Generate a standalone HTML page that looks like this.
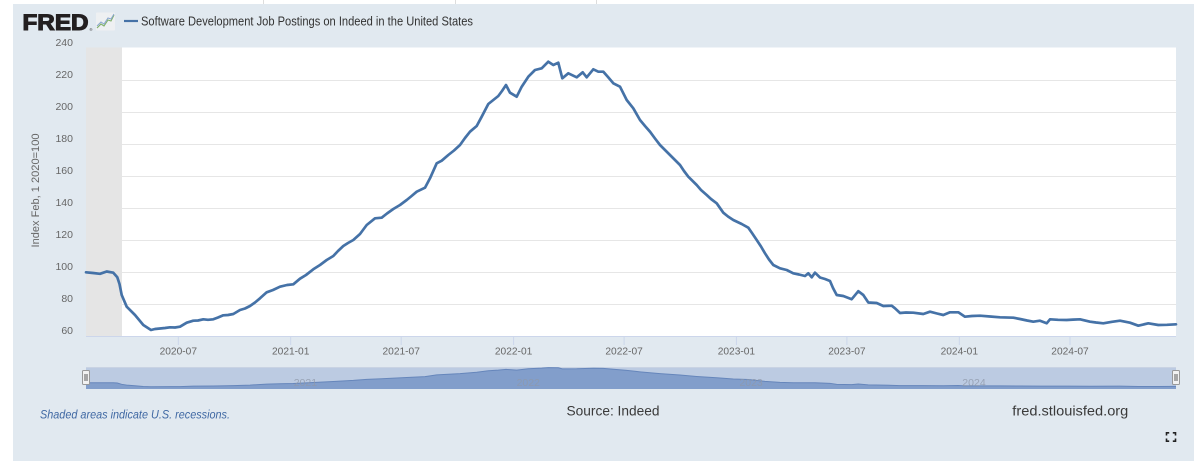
<!DOCTYPE html>
<html>
<head>
<meta charset="utf-8">
<style>
html,body{margin:0;padding:0;background:#ffffff;}
svg{display:block;}
text{font-family:"Liberation Sans",sans-serif;}
</style>
</head>
<body>
<svg width="1200" height="467" viewBox="0 0 1200 467" xmlns="http://www.w3.org/2000/svg">
  <rect x="0" y="0" width="1200" height="467" fill="#ffffff"/>
  <!-- top faint separators -->
  <line x1="263.5" y1="0" x2="263.5" y2="4" stroke="#dddddd" stroke-width="1"/>
  <line x1="455.5" y1="0" x2="455.5" y2="4" stroke="#dddddd" stroke-width="1"/>
  <line x1="596.5" y1="0" x2="596.5" y2="4" stroke="#dddddd" stroke-width="1"/>
  <!-- panel -->
  <rect x="13" y="4" width="1181" height="457" fill="#e1e9f0"/>

  <!-- FRED logo -->
  <text x="22.5" y="30" font-size="22" font-weight="bold" fill="#231f20" stroke="#231f20" stroke-width="1.1" stroke-linejoin="miter" textLength="66" lengthAdjust="spacingAndGlyphs">FRED</text>
  <text x="89.5" y="31" font-size="4" fill="#231f20">®</text>
  <rect x="96" y="12.5" width="19" height="18" fill="#eef0f2" rx="1"/>
  <polyline points="97,28 101,24 104,26 108,20 111,21 114,15" fill="none" stroke="#7fb069" stroke-width="1.1"/>
  <polyline points="97,26 101,22 104,24 108,18 111,19 114,14" fill="none" stroke="#8aa6cf" stroke-width="1"/>
  <!-- legend -->
  <line x1="124" y1="21" x2="138" y2="21" stroke="#4572a7" stroke-width="2.2"/>
  <text x="141" y="25.5" font-size="12.5" fill="#333333" textLength="332" lengthAdjust="spacingAndGlyphs">Software Development Job Postings on Indeed in the United States</text>

  <!-- plot area -->
  <rect x="86" y="47.5" width="1090" height="288.5" fill="#ffffff"/>
  <g stroke="#e6e6e6" stroke-width="1">
    <line x1="86" y1="80.5" x2="1176" y2="80.5"/>
    <line x1="86" y1="112.5" x2="1176" y2="112.5"/>
    <line x1="86" y1="144.5" x2="1176" y2="144.5"/>
    <line x1="86" y1="176.5" x2="1176" y2="176.5"/>
    <line x1="86" y1="208.5" x2="1176" y2="208.5"/>
    <line x1="86" y1="240.5" x2="1176" y2="240.5"/>
    <line x1="86" y1="272.5" x2="1176" y2="272.5"/>
    <line x1="86" y1="304.5" x2="1176" y2="304.5"/>
  </g>
  <!-- recession shading -->
  <rect x="86" y="47.5" width="36" height="288.5" fill="#e5e5e5"/>
  <!-- x axis line -->
  <line x1="86" y1="336.5" x2="1176" y2="336.5" stroke="#ccd6eb" stroke-width="1"/>
  <!-- x ticks -->
  <g stroke="#ccd6eb" stroke-width="1">
    <line x1="178.3" y1="336" x2="178.3" y2="345"/>
    <line x1="290.7" y1="336" x2="290.7" y2="345"/>
    <line x1="401.2" y1="336" x2="401.2" y2="345"/>
    <line x1="513.6" y1="336" x2="513.6" y2="345"/>
    <line x1="624.1" y1="336" x2="624.1" y2="345"/>
    <line x1="736.4" y1="336" x2="736.4" y2="345"/>
    <line x1="846.9" y1="336" x2="846.9" y2="345"/>
    <line x1="959.3" y1="336" x2="959.3" y2="345"/>
    <line x1="1070" y1="336" x2="1070" y2="345"/>
  </g>

  <!-- y labels -->
  <g font-size="10.5" fill="#666666" text-anchor="end">
    <text x="73" y="46">240</text>
    <text x="73" y="78">220</text>
    <text x="73" y="110">200</text>
    <text x="73" y="142">180</text>
    <text x="73" y="174">160</text>
    <text x="73" y="206">140</text>
    <text x="73" y="238">120</text>
    <text x="73" y="270">100</text>
    <text x="73" y="302">80</text>
    <text x="73" y="334">60</text>
  </g>
  <!-- y title -->
  <text transform="translate(39,190.5) rotate(-90)" font-size="11" fill="#666666" text-anchor="middle" textLength="114" lengthAdjust="spacingAndGlyphs">Index Feb, 1 2020=100</text>

  <!-- x labels -->
  <g font-size="10.2" fill="#666666" text-anchor="middle">
    <text x="178.3" y="354.5">2020-07</text>
    <text x="290.7" y="354.5">2021-01</text>
    <text x="401.2" y="354.5">2021-07</text>
    <text x="513.6" y="354.5">2022-01</text>
    <text x="624.1" y="354.5">2022-07</text>
    <text x="736.4" y="354.5">2023-01</text>
    <text x="846.9" y="354.5">2023-07</text>
    <text x="959.3" y="354.5">2024-01</text>
    <text x="1070" y="354.5">2024-07</text>
  </g>

  <!-- series -->
  <path fill="none" stroke="#4572a7" stroke-width="2.7" stroke-linejoin="round" stroke-linecap="round"
    d="M86,272.3 L93,273 L100,273.8 L106.7,271.5 L113.3,272.7 L117.3,277.3 L119.5,284 L121.7,295 L126.7,306.7 L135,315 L143.3,325 L151,330 L155,329 L160,328.5 L165,328 L170,327.3 L175,327.5 L180,326.7 L186.7,322.7 L193.3,320.7 L198,320.5 L203.3,319.3 L208,319.8 L213.3,319.3 L218,317.5 L223.3,315.3 L228,315 L233.3,314 L240,310 L245,308.5 L250,306 L255,302.5 L260,298.3 L266.7,292.3 L273,290 L280,286.7 L287,285 L293.3,284.3 L300,278.7 L306,275 L313.3,269.3 L320,265 L326.7,260 L333.3,256 L338,251 L343.3,246 L348,243 L353.3,240 L360,234 L366.7,225 L375,218.3 L381.7,217.7 L387,213.5 L393.3,209 L400,205 L406.7,200 L411,196.5 L416.7,191.7 L425,187.7 L430,178.3 L436.7,163.3 L441.7,160.7 L448.3,155 L454,150.5 L460,145 L465,138 L470,131.7 L476.7,126 L481.7,116.7 L488.3,104 L493.3,100 L498.3,96 L502,91 L506,85 L510,92.7 L516.7,96.7 L521.7,86.7 L528.3,76.7 L535,70 L541.7,68.3 L548.3,61.7 L553.3,65 L558.3,62.7 L562.3,78.3 L568.3,73.3 L576.7,77.3 L582.7,72.3 L586.7,77.3 L593.3,69.3 L598.3,71.7 L603.3,71.7 L608,77 L613.3,83.3 L620,86.7 L626.7,100 L633.3,108.3 L640,120 L645,126 L650,131.7 L655,138.5 L660,145 L665,150 L670,155 L675,160 L680,165 L684,171 L688.3,176.7 L696.7,185 L701,190 L706.7,195 L711,199 L716.7,203.3 L723.3,212.7 L728,216.5 L733.3,220 L741.7,224 L748.3,227.7 L752,233 L756.7,240 L761,246.5 L765,253.3 L769,259.5 L773.3,265 L780,268.3 L786.7,270 L793.3,273.3 L799,274.5 L805,276 L808.3,273.3 L811.7,277.3 L815,272.7 L820,277.5 L825,279 L830,281 L833,288 L836.7,295 L843.3,296 L851.7,299.2 L858.3,291.2 L863.3,295 L868.3,302.5 L876.7,303 L883.3,306 L891.7,305.7 L895,308.3 L900,313 L906,312.5 L913.3,312.7 L923.3,314 L930,311.7 L937,313.5 L943.3,315 L950,312.3 L958.3,312.3 L965,316.7 L972,316 L980,315.7 L990,316.5 L1000,317.3 L1013.3,317.7 L1020,319 L1027,320.5 L1033.3,321.7 L1040,320.7 L1046.7,323.3 L1050,319.3 L1058,319.8 L1066.7,320 L1073,319.6 L1080,319.3 L1090,321.7 L1096,322.5 L1103.3,323.3 L1112,321.8 L1120,320.7 L1130,322.7 L1138.3,325.7 L1148.3,323.3 L1158.3,325 L1167,324.8 L1176,324.3"/>

  <!-- navigator -->
  <rect x="86" y="367" width="1090" height="22" fill="#bccbe2"/>
  <line x1="86" y1="367.5" x2="1176" y2="367.5" stroke="#c9d3e3" stroke-width="1"/>
  <g transform="matrix(1,0,0,0.0713,0,363.28)">
    <path fill="#829ecb" stroke="none"
      d="M86,272.3 L100,273.8 L113.3,272.7 L117.3,277.3 L121.7,295 L126.7,306.7 L135,315 L143.3,325 L151,330 L170,327.3 L180,326.7 L193.3,320.7 L213.3,319.3 L233.3,314 L250,306 L266.7,292.3 L280,286.7 L293.3,284.3 L313.3,269.3 L333.3,256 L353.3,240 L366.7,225 L381.7,217.7 L406.7,200 L425,187.7 L436.7,163.3 L460,145 L476.7,126 L488.3,104 L498.3,96 L506,85 L516.7,96.7 L528.3,76.7 L541.7,68.3 L548.3,61.7 L558.3,62.7 L562.3,78.3 L576.7,77.3 L593.3,69.3 L603.3,71.7 L613.3,83.3 L626.7,100 L640,120 L660,145 L680,165 L696.7,185 L716.7,203.3 L733.3,220 L748.3,227.7 L765,253.3 L780,268.3 L793.3,273.3 L815,272.7 L830,281 L836.7,295 L851.7,299.2 L858.3,291.2 L868.3,302.5 L883.3,306 L900,313 L923.3,314 L943.3,315 L958.3,312.3 L965,316.7 L1000,317.3 L1020,319 L1040,320.7 L1066.7,320 L1090,321.7 L1120,320.7 L1138.3,325.7 L1158.3,325 L1176,324.3 L1176,360.7 L86,360.7 Z"/>
    <path fill="none" stroke="#6686bb" stroke-width="1" vector-effect="non-scaling-stroke"
      d="M86,272.3 L100,273.8 L113.3,272.7 L117.3,277.3 L121.7,295 L126.7,306.7 L135,315 L143.3,325 L151,330 L170,327.3 L180,326.7 L193.3,320.7 L213.3,319.3 L233.3,314 L250,306 L266.7,292.3 L280,286.7 L293.3,284.3 L313.3,269.3 L333.3,256 L353.3,240 L366.7,225 L381.7,217.7 L406.7,200 L425,187.7 L436.7,163.3 L460,145 L476.7,126 L488.3,104 L498.3,96 L506,85 L516.7,96.7 L528.3,76.7 L541.7,68.3 L548.3,61.7 L558.3,62.7 L562.3,78.3 L576.7,77.3 L593.3,69.3 L603.3,71.7 L613.3,83.3 L626.7,100 L640,120 L660,145 L680,165 L696.7,185 L716.7,203.3 L733.3,220 L748.3,227.7 L765,253.3 L780,268.3 L793.3,273.3 L815,272.7 L830,281 L836.7,295 L851.7,299.2 L858.3,291.2 L868.3,302.5 L883.3,306 L900,313 L923.3,314 L943.3,315 L958.3,312.3 L965,316.7 L1000,317.3 L1020,319 L1040,320.7 L1066.7,320 L1090,321.7 L1120,320.7 L1138.3,325.7 L1158.3,325 L1176,324.3"/>
  </g>
  <g font-size="10.5" fill="#8f99aa" fill-opacity="0.8">
    <text x="293.7" y="386">2021</text>
    <text x="516.6" y="386">2022</text>
    <text x="739.4" y="386">2023</text>
    <text x="962.3" y="386">2024</text>
  </g>
  <!-- handles -->
  <g>
    <rect x="82.5" y="370.5" width="7" height="14" fill="#f2f2f2" stroke="#999999" stroke-width="1" rx="1"/>
    <line x1="85" y1="374" x2="85" y2="381" stroke="#333" stroke-width="0.8"/>
    <line x1="87" y1="374" x2="87" y2="381" stroke="#333" stroke-width="0.8"/>
    <rect x="1172.5" y="370.5" width="7" height="14" fill="#f2f2f2" stroke="#999999" stroke-width="1" rx="1"/>
    <line x1="1175" y1="374" x2="1175" y2="381" stroke="#333" stroke-width="0.8"/>
    <line x1="1177" y1="374" x2="1177" y2="381" stroke="#333" stroke-width="0.8"/>
  </g>

  <!-- footer texts -->
  <text x="40" y="418.3" font-size="12" font-style="italic" fill="#3f68a3" textLength="190" lengthAdjust="spacingAndGlyphs">Shaded areas indicate U.S. recessions.</text>
  <text x="566.5" y="415.7" font-size="14" fill="#3a3a3a" textLength="93" lengthAdjust="spacingAndGlyphs">Source: Indeed</text>
  <text x="1012.3" y="415.7" font-size="14" fill="#3a3a3a" textLength="116" lengthAdjust="spacingAndGlyphs">fred.stlouisfed.org</text>

  <!-- fullscreen icon -->
  <g fill="none" stroke="#222222" stroke-width="1.6">
    <polyline points="1166.5,435.5 1166.5,432.8 1169.2,432.8"/>
    <polyline points="1172.8,432.8 1175.5,432.8 1175.5,435.5"/>
    <polyline points="1166.5,438.5 1166.5,441.2 1169.2,441.2"/>
    <polyline points="1172.8,441.2 1175.5,441.2 1175.5,438.5"/>
  </g>
</svg>
</body>
</html>
